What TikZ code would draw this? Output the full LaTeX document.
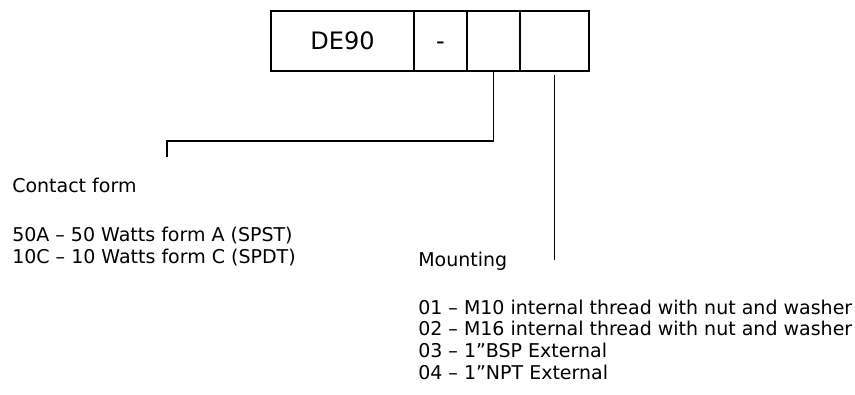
\documentclass[tikz,border=0pt]{standalone}
\usepackage{fontspec}
\setmainfont{DejaVu Sans}
\usetikzlibrary{positioning}

\begin{document}
\begin{tikzpicture}[
    x=0.75pt, y=-0.75pt,
    cell/.style={
        rectangle,
        draw,
        line width=1.5pt,
        minimum height=45pt,
        outer sep=0pt,
        inner sep=0pt,
        text height=13pt,
        text depth=0pt,
        font=\fontsize{18pt}{20pt}\selectfont
    },
    lbl/.style={
        anchor=base west,
        inner sep=0pt,
        font=\fontsize{14.25pt}{16.5pt}\selectfont
    },
    conn/.style={line width=1.2pt}
]
    \useasboundingbox (0,0) rectangle (855,394);

    % Code box
    \node[cell, minimum width=107.25pt, anchor=north west] (prefix) at (271,11) {DE90};
    \node[cell, minimum width=39.75pt, right=0pt of prefix] (dash) {-};
    \node[cell, minimum width=39.75pt, right=0pt of dash] (formbox) {};
    \node[cell, minimum width=51.75pt, right=0pt of formbox] (mountbox) {};

    % Contact form
    \node[lbl] (formhead) at (12,192.5) {Contact form};
    \node[lbl] (forma) at (12,241) {50A – 50 Watts form A (SPST)};
    \node[lbl] (formc) at (12,263) {10C – 10 Watts form C (SPDT)};

    % Mounting
    \node[lbl] (mounthead) at (418,266) {Mounting};
    \node[lbl] (mounta) at (418,314) {01 – M10 internal thread with nut and washer};
    \node[lbl] (mountb) at (418,335.7) {02 – M16 internal thread with nut and washer};
    \node[lbl] (mountc) at (418,357.5) {03 – 1”BSP External};
    \node[lbl] (mountd) at (418,379.3) {04 – 1”NPT External};

    % Leader lines
    \coordinate (formend) at (166.7,157);
    \coordinate (mountend) at (554.5,260);
    \draw[conn] (formbox.south) -- ++(0,69.7) -| (formend);
    \draw[conn, shorten <=3pt] (mountbox.south) -- (mountend);
\end{tikzpicture}
\end{document}
